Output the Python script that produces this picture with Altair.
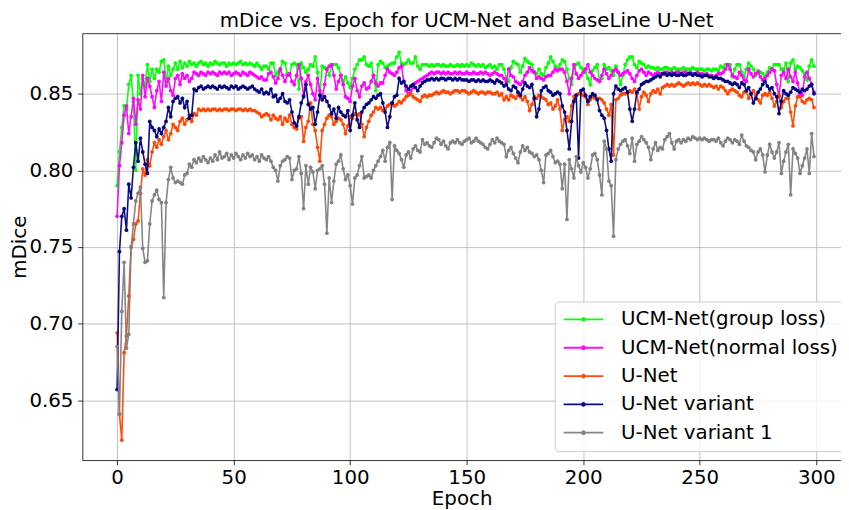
import altair as alt
import pandas as pd

# Epoch index and mDice values (in thousandths)
epochs = list(range(300))

group_loss = [
    790, 812, 828, 842, 840, 856, 862, 845, 800, 862,
    850, 860, 855, 869, 858, 866, 860, 866, 864, 871,
    872, 858, 868, 862, 866, 870, 866, 871, 867, 870,
    868, 871, 869, 870, 868, 870, 871, 869, 870, 868,
    870, 869, 871, 870, 869, 870, 870, 868, 870, 869,
    870, 869, 870, 871, 869, 870, 869, 870, 869, 868,
    870, 868, 866, 868, 868, 866, 870, 870, 862, 864,
    866, 871, 870, 863, 862, 869, 870, 869, 853, 870,
    867, 864, 866, 869, 868, 874, 864, 849, 868, 867,
    866, 862, 868, 869, 869, 867, 862, 858, 861, 857,
    854, 860, 866, 869, 872, 872, 874, 869, 868, 870,
    862, 852, 869, 871, 870, 867, 868, 869, 870, 870,
    874, 877, 870, 869, 870, 872, 870, 870, 874, 868,
    866, 869, 869, 869, 868, 869, 868, 869, 869, 868,
    869, 868, 868, 869, 868, 868, 869, 868, 869, 868,
    869, 868, 870, 869, 868, 869, 868, 869, 867, 868,
    869, 867, 868, 866, 869, 869, 866, 860, 858, 867,
    871, 870, 869, 864, 868, 873, 871, 870, 869, 864,
    863, 866, 863, 862, 867, 870, 874, 871, 868, 866,
    869, 872, 871, 866, 860, 856, 867, 869, 870, 867,
    866, 864, 860, 856, 865, 867, 869, 858, 860, 869,
    866, 867, 865, 862, 868, 864, 856, 862, 869, 872,
    874, 874, 869, 867, 871, 870, 869, 867, 868, 867,
    867, 866, 867, 866, 866, 867, 867, 866, 866, 867,
    866, 866, 866, 867, 866, 866, 866, 867, 866, 866,
    866, 866, 865, 866, 866, 865, 866, 866, 865, 868,
    867, 869, 869, 869, 861, 866, 869, 869, 864, 861,
    866, 870, 868, 866, 862, 865, 864, 863, 861, 864,
    867, 866, 869, 869, 869, 866, 866, 870, 858, 870,
    872, 866, 868, 867, 865, 863, 859, 868, 872, 868,
]

normal_loss = [
    770, 803, 818, 836, 842, 824, 835, 847, 830, 846,
    840, 862, 848, 860, 855, 848, 841, 852, 858, 845,
    864, 855, 860, 852, 849, 860, 862, 856, 863, 860,
    862, 858, 860, 864, 863, 862, 864, 863, 862, 864,
    863, 864, 863, 862, 864, 863, 864, 863, 864, 862,
    863, 864, 863, 862, 864, 863, 862, 864, 863, 862,
    861, 860, 861, 859, 859, 863, 864, 861, 857, 860,
    866, 862, 858, 862, 863, 858, 856, 862, 869, 860,
    849, 858, 862, 856, 850, 846, 860, 852, 847, 856,
    866, 868, 869, 862, 853, 858, 862, 856, 848, 847,
    845, 855, 860, 852, 848, 855, 857, 853, 854, 858,
    862, 857, 855, 857, 857, 862, 866, 864, 863, 862,
    864, 867, 868, 858, 852, 850, 852, 854, 857, 858,
    859, 860, 861, 862, 863, 864, 863, 864, 864, 863,
    864, 863, 864, 863, 863, 864, 863, 864, 863, 863,
    864, 863, 863, 864, 863, 863, 864, 863, 864, 863,
    862, 863, 864, 863, 862, 862, 860, 858, 866, 862,
    861, 858, 857, 856, 858, 862, 864, 867, 865, 864,
    860, 861, 860, 859, 861, 862, 862, 864, 866, 865,
    866, 866, 864, 858, 850, 860, 869, 863, 860, 862,
    864, 866, 869, 864, 862, 860, 859, 858, 862, 866,
    863, 860, 862, 865, 866, 864, 862, 863, 864, 865,
    863, 860, 858, 862, 865, 866, 864, 862, 864, 863,
    862, 863, 864, 863, 863, 864, 864, 863, 864, 863,
    864, 864, 863, 864, 864, 863, 864, 863, 863, 864,
    863, 863, 862, 863, 862, 862, 861, 862, 863, 863,
    864, 866, 869, 866, 862, 861, 860, 864, 862, 859,
    858, 866, 863, 861, 863, 864, 861, 859, 860, 862,
    864, 866, 865, 856, 848, 862, 864, 860, 866, 861,
    858, 864, 857, 850, 849, 861, 864, 860, 856, 851,
]

unet = [
    694, 641, 624, 681, 692, 718, 750, 755, 765, 767,
    785, 801, 797, 807, 803, 812, 818, 815, 820, 817,
    822, 826, 820, 824, 830, 828, 826, 832, 834, 830,
    833, 836, 832, 837, 836, 840, 839, 840, 839, 840,
    839, 840, 840, 839, 840, 839, 840, 840, 839, 840,
    840, 839, 840, 840, 839, 840, 839, 840, 839, 839,
    838, 837, 835, 836, 837, 836, 833, 836, 834, 833,
    835, 830, 834, 832, 836, 830, 828, 827, 834, 835,
    819, 828, 832, 844, 830, 826, 815, 806, 826, 830,
    834, 836, 835, 830, 832, 834, 833, 830, 824, 829,
    835, 834, 837, 836, 837, 830, 822, 828, 832, 836,
    838, 841, 840, 841, 839, 840, 842, 843, 844, 842,
    843, 845, 844, 846, 848, 849, 850, 848, 847, 846,
    845, 848, 849, 848, 849, 849, 850, 851, 850, 851,
    852, 851, 851, 850, 851, 852, 852, 851, 852, 852,
    851, 850, 851, 852, 851, 850, 851, 851, 850, 851,
    851, 850, 850, 851, 849, 850, 846, 848, 846, 849,
    848, 847, 849, 848, 846, 848, 845, 839, 843, 848,
    847, 849, 848, 847, 846, 843, 844, 840, 842, 846,
    840, 826, 833, 835, 832, 842, 848, 849, 850, 850,
    849, 848, 843, 846, 848, 847, 847, 847, 846, 844,
    840, 836, 843, 810, 846, 847, 849, 850, 850, 851,
    852, 851, 853, 850, 840, 848, 851, 849, 845, 850,
    852, 851, 853, 850, 854, 855, 856, 855, 856, 855,
    856, 857, 856, 855, 856, 857, 856, 857, 856, 857,
    856, 855, 856, 855, 856, 855, 854, 855, 853, 855,
    854, 852, 850, 852, 853, 852, 851, 849, 848, 851,
    852, 847, 850, 852, 849, 846, 844, 849, 850, 849,
    851, 847, 842, 845, 849, 841, 845, 847, 847, 838,
    829, 842, 848, 848, 845, 844, 846, 847, 846, 841,
]

unet_variant = [
    657, 747, 770, 775, 761, 791, 782, 802, 818, 806,
    821, 812, 804, 798, 832, 828, 826, 822, 827, 824,
    828, 832, 841, 835, 845, 847, 848, 844, 847, 841,
    845, 834, 836, 853, 852, 854, 855, 853, 854, 855,
    854, 855, 854, 853, 855, 854, 855, 854, 853, 855,
    854, 855, 853, 854, 855, 854, 853, 854, 855, 853,
    852, 851, 853, 850, 851, 850, 853, 848, 849, 845,
    847, 850, 845, 844, 846, 838, 831, 829, 835, 844,
    848, 856, 843, 840, 841, 830, 838, 849, 846, 848,
    845, 842, 837, 840, 834, 841, 838, 836, 835, 839,
    826, 836, 844, 833, 828, 838, 841, 843, 844, 846,
    848, 847, 849, 850, 844, 838, 828, 835, 844, 848,
    849, 860, 857, 858, 855, 853, 855, 856, 854, 852,
    855, 857, 858, 859, 859, 860, 859, 860, 859, 860,
    860, 859, 860, 860, 859, 860, 859, 860, 859, 859,
    859, 858, 859, 859, 858, 859, 858, 859, 858, 858,
    859, 858, 857, 859, 858, 857, 855, 856, 853, 852,
    855, 854, 851, 849, 853, 857, 855, 854, 856, 847,
    835, 840, 852, 854, 855, 852, 851, 849, 850, 851,
    850, 842, 838, 826, 814, 832, 845, 849, 808, 852,
    853, 849, 845, 848, 850, 849, 846, 839, 836, 834,
    826, 814, 806, 850, 855, 853, 852, 853, 854, 851,
    840, 832, 840, 851, 853, 856, 857, 858, 858, 859,
    860, 861, 862, 861, 863, 863, 862, 863, 862, 863,
    862, 862, 863, 862, 862, 863, 863, 862, 863, 862,
    862, 861, 862, 862, 861, 861, 860, 861, 860, 860,
    859, 858, 858, 857, 856, 857, 856, 854, 857, 856,
    852, 854, 850, 844, 847, 851, 853, 856, 858, 855,
    853, 854, 850, 848, 837, 845, 852, 850, 849, 851,
    854, 853, 852, 851, 853, 852, 853, 855, 856, 850,
]

unet_variant_1 = [
    685, 641, 708, 740, 684, 693, 750, 765, 780, 785,
    789, 749, 740, 741, 765, 780, 784, 787, 781, 779,
    717, 779, 794, 802, 795, 792, 793, 792, 791, 797,
    798, 804, 802, 807, 805, 808, 806, 809, 807, 805,
    808, 806, 810, 807, 812, 808, 809, 811, 807, 810,
    808, 811, 809, 807, 810, 808, 811, 809, 810, 807,
    809, 806, 810, 808, 807, 809, 806, 802, 800, 793,
    803, 806, 807, 809, 808, 794, 800, 801, 809, 798,
    775, 803, 791, 802, 799, 788, 800, 801, 803, 791,
    759, 795, 779, 793, 804, 806, 810, 801, 794, 797,
    790, 778, 795, 797, 803, 809, 795, 796, 797, 795,
    800, 803, 806, 809, 813, 806, 815, 818, 781, 816,
    813, 811, 807, 802, 810, 812, 808, 814, 816, 813,
    812, 820, 817, 818, 816, 815, 818, 821, 820, 817,
    819, 816, 814, 818, 819, 818, 820, 818, 817, 819,
    820, 821, 818, 819, 821, 819, 818, 817, 815, 814,
    817, 820, 818, 821, 819, 818, 817, 809, 813, 815,
    811, 808, 805, 812, 816, 813, 815, 812, 811, 809,
    810, 807, 800, 792, 810, 811, 813, 809, 805, 806,
    804, 788, 804, 768, 807, 801, 795, 809, 803, 799,
    805, 802, 795, 801, 810, 811, 807, 797, 784, 819,
    814, 793, 790, 757, 807, 814, 817, 819, 820, 816,
    811, 821, 806, 817, 819, 822, 820, 818, 815, 807,
    814, 818, 813, 815, 814, 820, 822, 824, 818, 814,
    819, 820, 818, 820, 819, 821, 820, 822, 821, 820,
    821, 820, 821, 820, 819, 820, 820, 819, 821, 818,
    816, 819, 821, 820, 818, 820, 819, 817, 823, 819,
    816, 815, 813, 812, 807, 812, 814, 810, 799, 810,
    817, 812, 808, 812, 818, 798, 806, 812, 817, 784,
    814, 811, 808, 798, 803, 808, 814, 798, 824, 809,
]

names = ["UCM-Net(group loss)", "UCM-Net(normal loss)", "U-Net",
         "U-Net variant", "U-Net variant 1"]
colors = ["#00ff00", "#ff00ff", "#ff4500", "#000080", "#808080"]
series = [group_loss, normal_loss, unet, unet_variant, unet_variant_1]
x_ticks = [0, 50, 100, 150, 200, 250, 300]
y_ticks = [0.65, 0.70, 0.75, 0.80, 0.85]

for s in series:
    assert len(s) == len(epochs), len(s)

rows = []
for name, vals in zip(names, series):
    for e, v in zip(epochs, vals):
        rows.append({"epoch": e, "mdice": v / 1000.0, "model": name})
df = pd.DataFrame(rows)

FONT = "DejaVu Sans"
xscale = alt.Scale(domain=[-14.95, 310.6], nice=False, zero=False)
yscale = alt.Scale(domain=[0.611, 0.8895], nice=False, zero=False)

legend_path = "M-4,0H4M-0.3,0A0.3,0.3 0 1,0 0.3,0A0.3,0.3 0 1,0 -0.3,0"
legend = alt.Legend(
    title=None, orient="none", legendX=477, legendY=271, direction="vertical",
    labelFontSize=20, labelFont=FONT, labelColor="black", labelLimit=500,
    symbolType=legend_path, symbolSize=100, symbolStrokeWidth=1.8,
    symbolOffset=11, labelOffset=28, rowPadding=8.6, padding=8,
    cornerRadius=4, strokeColor="#cccccc", fillColor="rgba(255,255,255,0.8)",
)
color = alt.Color("model:N", scale=alt.Scale(domain=names, range=colors), legend=legend)

x_axis_main = alt.Axis(
    values=x_ticks, format="d", grid=True, gridColor="#b0b0b0", gridWidth=0.8,
    tickSize=4.7, tickWidth=0.8, tickColor="black", domainColor="black", domainWidth=0.8,
    labelFontSize=20, labelFont=FONT, labelColor="black", labelPadding=3, labelFlush=False,
    title="Epoch", titleFontSize=20, titleFont=FONT, titleFontWeight="normal",
    titleColor="black", titlePadding=1,
)
y_axis_main = alt.Axis(
    values=y_ticks, format=".2f", grid=True, gridColor="#b0b0b0", gridWidth=0.8,
    tickSize=4.7, tickWidth=0.8, tickColor="black", domainColor="black", domainWidth=0.8,
    labelFontSize=20, labelFont=FONT, labelColor="black", labelPadding=4.7,
    title="mDice", titleFontSize=20, titleFont=FONT, titleFontWeight="normal",
    titleColor="black", titlePadding=-1,
)
x_axis_top = alt.Axis(
    orient="top", labels=False, ticks=False, grid=False, domain=True,
    domainColor="black", domainWidth=0.8, title=None, minExtent=0,
)

layers = []
for i, name in enumerate(names):
    if i == 0:
        xa, ya = x_axis_main, y_axis_main
    elif i == len(names) - 1:
        xa, ya = x_axis_top, None
    else:
        xa, ya = None, None
    base = alt.Chart(df).transform_filter(alt.datum.model == name)
    line = base.mark_line(strokeWidth=1.6, opacity=0.95).encode(
        x=alt.X("epoch:Q", scale=xscale, axis=xa),
        y=alt.Y("mdice:Q", scale=yscale, axis=ya),
        color=color,
    )
    pts = base.mark_point(filled=True, size=15, opacity=0.95).encode(
        x=alt.X("epoch:Q", scale=xscale, axis=None),
        y=alt.Y("mdice:Q", scale=yscale, axis=None),
        color=color,
    )
    layers += [line, pts]

chart = alt.layer(*layers).resolve_axis(x="independent", y="independent").properties(
    width=766, height=431,
    autosize=alt.AutoSizeParams(type="none"),
    padding={"left": 75, "top": 23, "right": 0, "bottom": 48},
    title=alt.TitleParams(
        text="mDice vs. Epoch for UCM-Net and BaseLine U-Net", fontSize=20, font=FONT,
        fontWeight="normal", color="black", anchor="middle", offset=2, dx=5,
    ),
).configure_view(stroke=None)

chart.save("out.html", embed_options={"renderer": "svg", "actions": False})
